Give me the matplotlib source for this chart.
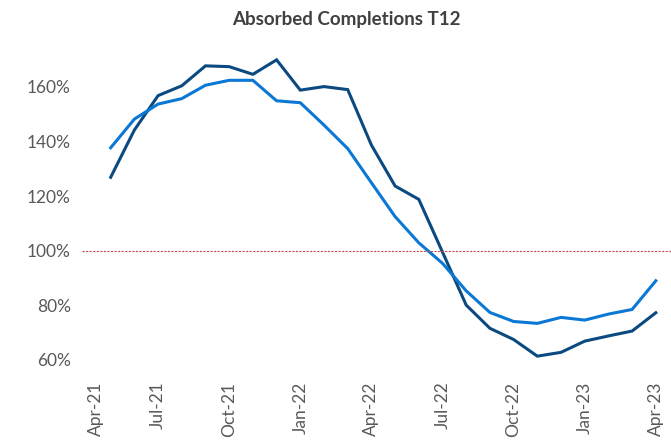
import matplotlib
matplotlib.use("Agg")
import matplotlib.pyplot as plt
import matplotlib.transforms as mtransforms
from matplotlib.ticker import FixedLocator, FuncFormatter

months = ["May-21", "Jun-21", "Jul-21", "Aug-21", "Sep-21", "Oct-21", "Nov-21", "Dec-21",
          "Jan-22", "Feb-22", "Mar-22", "Apr-22", "May-22", "Jun-22", "Jul-22", "Aug-22",
          "Sep-22", "Oct-22", "Nov-22", "Dec-22", "Jan-23", "Feb-23", "Mar-23", "Apr-23"]
month_index = list(range(1, 25))  # months since Apr-21

dark_series = [126.9, 144.2, 156.8, 160.4, 167.7, 167.4, 164.6, 169.9,
               158.8, 160.1, 159.0, 138.7, 123.7, 118.8, 99.5, 80.1,
               71.6, 67.5, 61.4, 62.8, 66.9, 68.8, 70.6, 77.3]
light_series = [137.7, 148.2, 153.7, 155.7, 160.6, 162.4, 162.4, 154.9,
                154.2, 146.0, 137.4, 124.9, 112.5, 102.9, 95.4, 85.3,
                77.4, 74.1, 73.4, 75.6, 74.6, 76.8, 78.5, 89.0]
reference_level = 100

tick_labels = ["Apr-21", "Jul-21", "Oct-21", "Jan-22", "Apr-22", "Jul-22", "Oct-22", "Jan-23", "Apr-23"]
tick_index = [0, 3, 6, 9, 12, 15, 18, 21, 24]
y_ticks = [60, 80, 100, 120, 140, 160]

W, H = 671, 441
fig = plt.figure(figsize=(W / 100, H / 100), dpi=100)
ax = fig.add_axes([82 / W, 1 - 372 / H, (671 - 82) / W, (372 - 50) / H])

ax.plot(month_index, dark_series, color="#0B4A80", lw=2.2, solid_joinstyle="miter")
ax.plot(month_index, light_series, color="#0A78D4", lw=2.2, solid_joinstyle="miter")
ax.axhline(reference_level, color="#C0504D", lw=0.8, ls=(0, (2, 1.2)))

ax.set_xlim(-0.21, 24.64)
ax.set_ylim(55.6, 173.5)

for s in ax.spines.values():
    s.set_visible(False)

ax.xaxis.set_major_locator(FixedLocator(tick_index))
ax.set_xticklabels(tick_labels, rotation=90, va="top", ha="center")
ax.yaxis.set_major_locator(FixedLocator(y_ticks))
ax.yaxis.set_major_formatter(FuncFormatter(lambda v, p: f"{v:.0f}%"))
ax.tick_params(axis="both", length=0, colors="#595959", labelsize=12.5)
ax.tick_params(axis="x", pad=7)
ax.tick_params(axis="y", pad=8)
for lab in ax.get_xticklabels() + ax.get_yticklabels():
    lab.set_fontfamily("Lato")

first = ax.get_xticklabels()[0]
first.set_transform(first.get_transform() + mtransforms.ScaledTranslation(9 / 100, 0, fig.dpi_scale_trans))

fig.text(346 / W, 1 - 20 / H, "Absorbed Completions T12", ha="center", va="center",
         fontsize=13.5, fontweight="bold", color="#404040", family="Lato")

fig.savefig("out.png", dpi=100)
